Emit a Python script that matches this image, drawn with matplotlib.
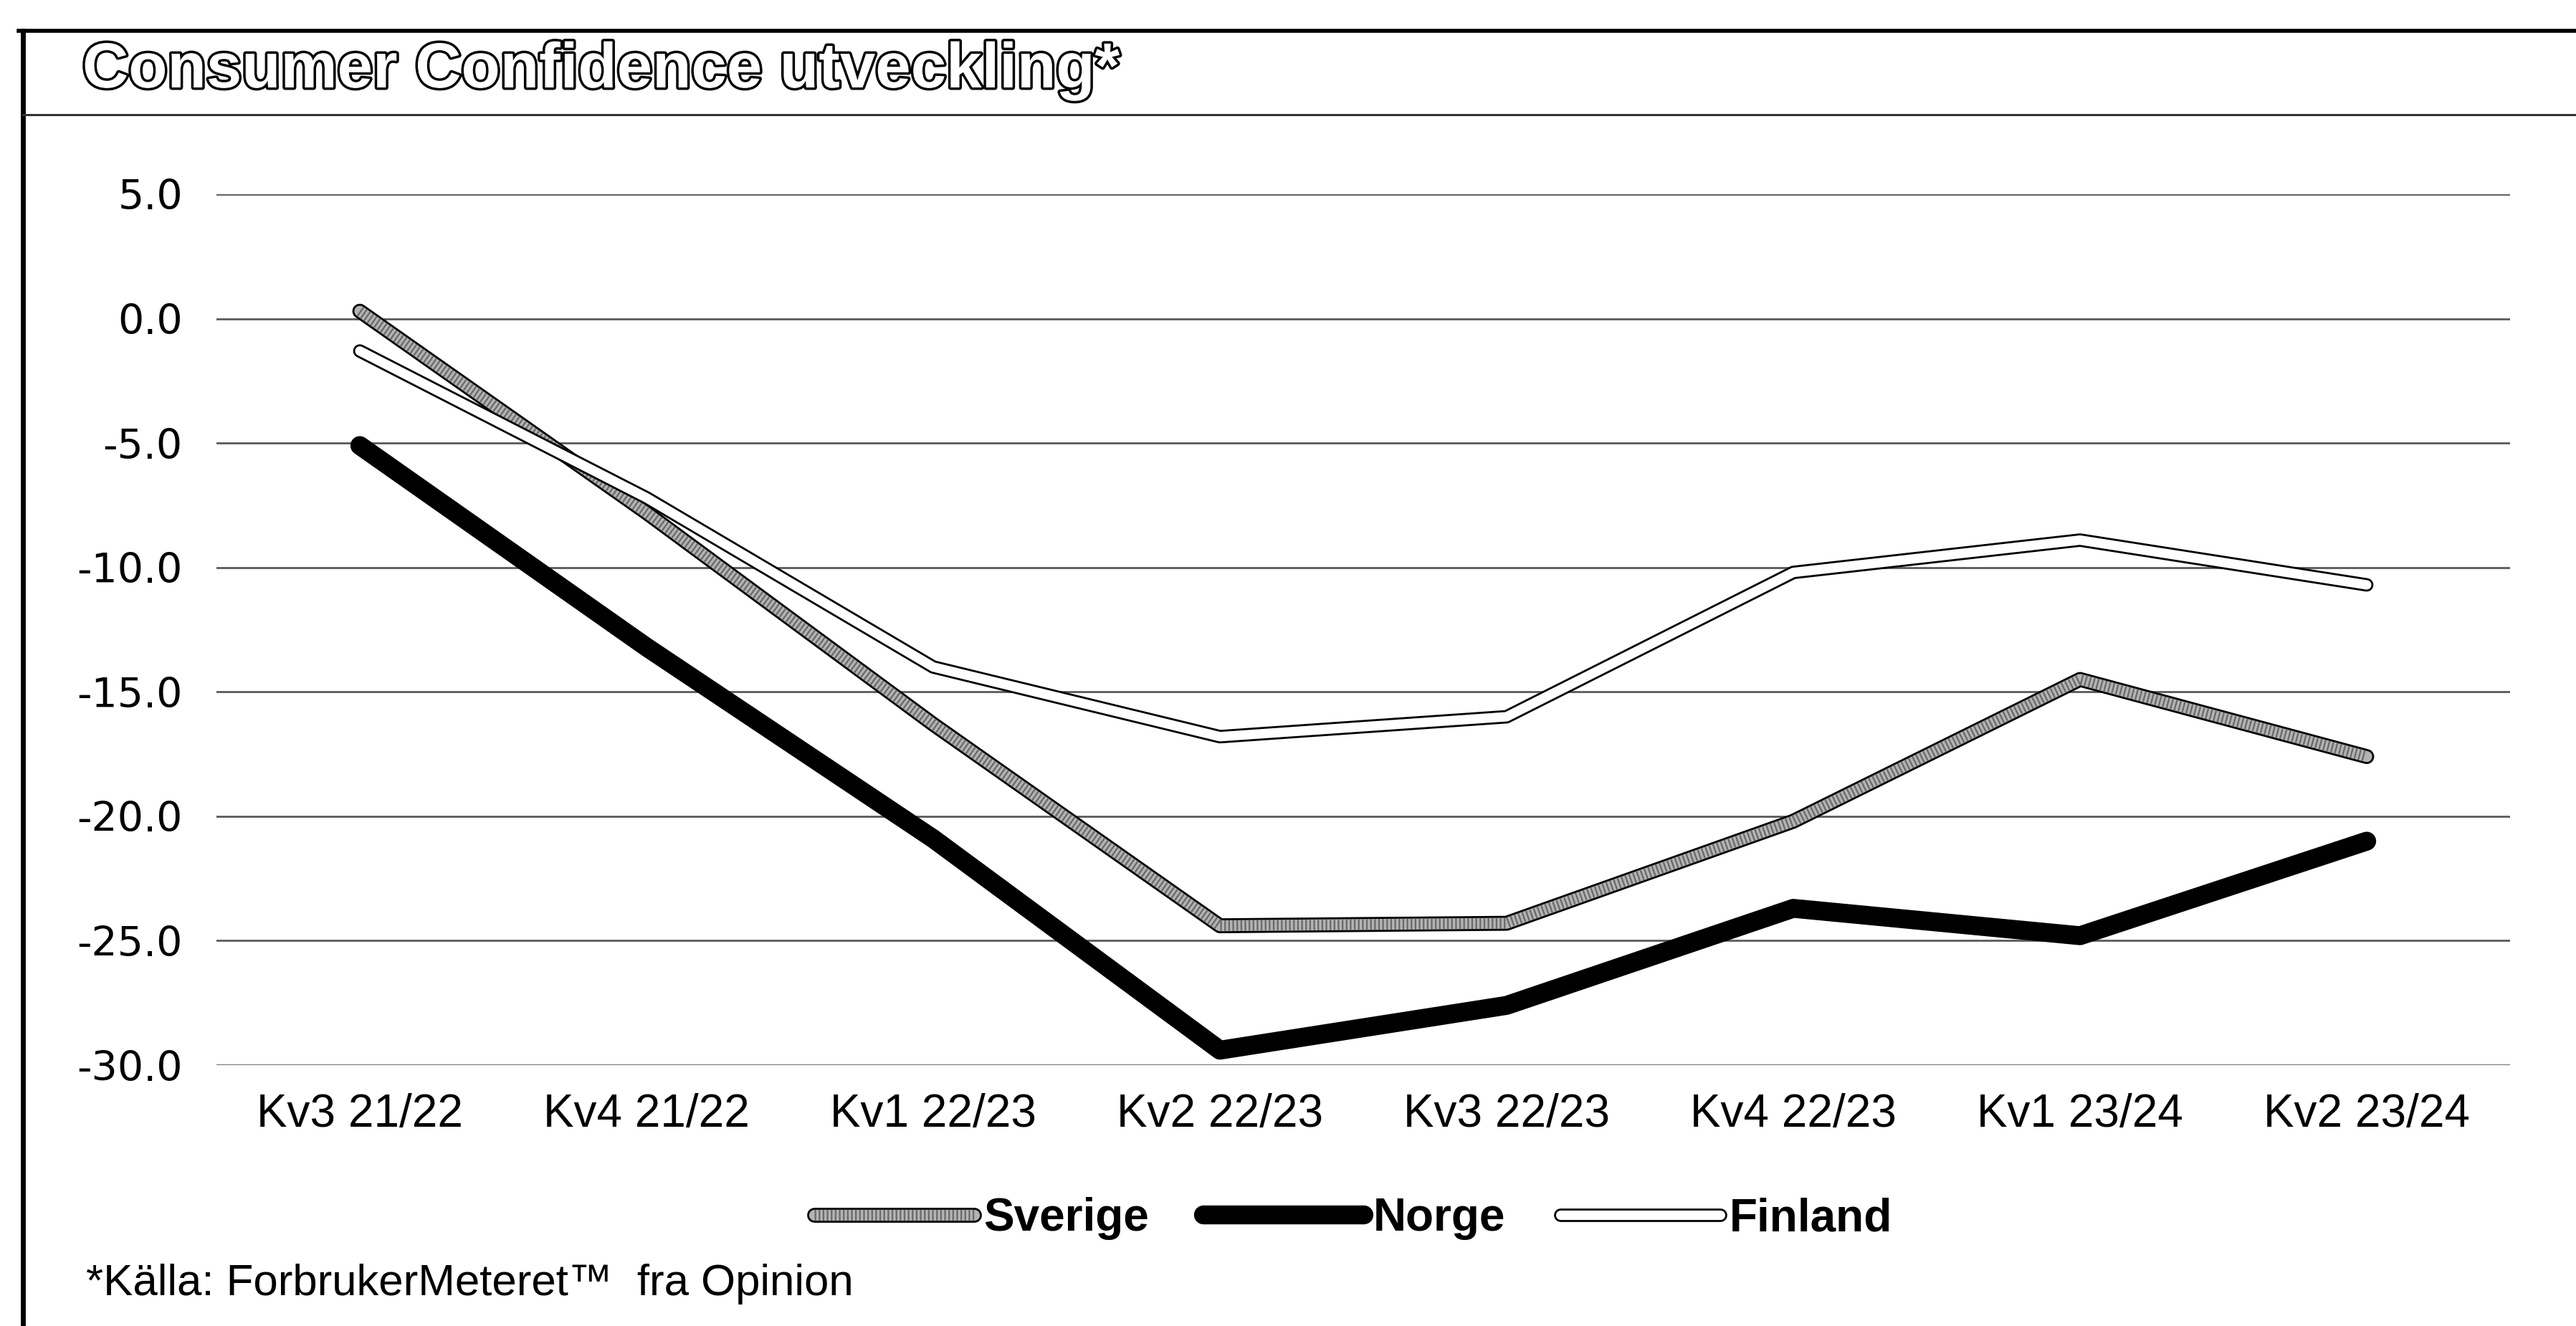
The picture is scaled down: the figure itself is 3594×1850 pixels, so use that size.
import numpy as np
import matplotlib
matplotlib.use("Agg")
import matplotlib.pyplot as plt
from matplotlib import font_manager as fm
from matplotlib.lines import Line2D
from matplotlib.legend_handler import HandlerTuple
import matplotlib.patheffects as pe

# ---- data ----
categories = ["Kv3 21/22", "Kv4 21/22", "Kv1 22/23", "Kv2 22/23",
              "Kv3 22/23", "Kv4 22/23", "Kv1 23/24", "Kv2 23/24"]
sverige = [0.3, -7.8, -16.3, -24.4, -24.3, -20.2, -14.5, -17.6]
norge = [-5.1, -13.2, -20.9, -29.4, -27.6, -23.7, -24.8, -21.0]
finland = [-1.3, -7.2, -14.0, -16.8, -16.0, -10.2, -8.9, -10.7]
series_names = ["Sverige", "Norge", "Finland"]
y_ticks = [5, 0, -5, -10, -15, -20, -25, -30]
title = "Consumer Confidence utveckling*"
footnote = "*Källa: ForbrukerMeteret\u2122  fra Opinion"

avail = {f.name for f in fm.fontManager.ttflist}
narrow = "Liberation Sans Narrow" in avail
xfont = "Liberation Sans Narrow" if narrow else "Liberation Sans"
xsize = 53 if narrow else 46

W, H = 3594, 1850
fig = plt.figure(figsize=(W / 100, H / 100), dpi=100)
fig.patch.set_facecolor("white")

ax = fig.add_axes([302 / W, 1 - 1486 / H, 3200 / W, 1215 / H])
x = np.arange(len(categories)) + 0.5

kw = dict(solid_capstyle="round", solid_joinstyle="round")
# Sverige: hatched gray band with black edges
sv_o, = ax.plot(x, sverige, color="black", lw=15, zorder=3, **kw)
sv_f, = ax.plot(x, sverige, color="#b4b4b4", lw=11, zorder=3.1, **kw)
sv_h, = ax.plot(x, sverige, color="#6a6a6a", lw=11, zorder=3.15,
                dashes=(0.15, 0.22), dash_capstyle="butt")
# Norge: thick black
no_l, = ax.plot(x, norge, color="black", lw=19, zorder=3.2, **kw)
# Finland: white band with black edges
fi_o, = ax.plot(x, finland, color="black", lw=13.5, zorder=3.3, **kw)
fi_f, = ax.plot(x, finland, color="white", lw=9.5, zorder=3.4, **kw)

ax.set_xlim(0, len(categories))
ax.set_ylim(-30, 5)
ax.set_yticks(y_ticks)
ax.set_yticklabels([f"{v:.1f}" for v in y_ticks], fontfamily="DejaVu Sans",
                   fontsize=41)
ax.set_xticks(x)
ax.set_xticklabels(categories, fontfamily=xfont, fontsize=xsize)
ax.tick_params(axis="y", length=0, pad=34)
ax.tick_params(axis="x", length=0, pad=28)
for s in ax.spines.values():
    s.set_visible(False)
ax.yaxis.grid(True, color="#5a5a5a", lw=2.0, zorder=1)
ax.xaxis.grid(False)
ax.set_axisbelow(True)

# legend
leg = fig.legend([(sv_o, sv_f, sv_h), no_l, (fi_o, fi_f)], series_names,
                 handler_map={tuple: HandlerTuple(ndivide=1)},
                 loc="center", bbox_to_anchor=(1888 / W, 1 - 1700 / H),
                 ncol=3, frameon=False, handlelength=3.5, handletextpad=0.2,
                 columnspacing=1.2, prop={"family": "Liberation Sans",
                                          "weight": "bold", "size": 46})

# title (outlined)
fig.text(115 / W, 1 - 99 / H, title, fontsize=64, fontweight="bold",
         fontfamily="Liberation Sans", color="white", va="center", ha="left",
         path_effects=[pe.withStroke(linewidth=5, foreground="black")])

# footnote
fig.text(120 / W, 1 - 1792 / H, footnote, fontsize=44.5,
         fontfamily="Liberation Sans", va="center", ha="left")

# frame lines
fig.add_artist(Line2D([26 / W, 1], [1 - 43 / H, 1 - 43 / H], color="black",
                      lw=4, transform=fig.transFigure))
fig.add_artist(Line2D([32 / W, 32 / W], [0, 1 - 43 / H], color="black",
                      lw=5, transform=fig.transFigure))
fig.add_artist(Line2D([32 / W, 1], [1 - 160 / H, 1 - 160 / H], color="#333333",
                      lw=2.2, transform=fig.transFigure))

fig.savefig("out.png", dpi=100, facecolor="white")
